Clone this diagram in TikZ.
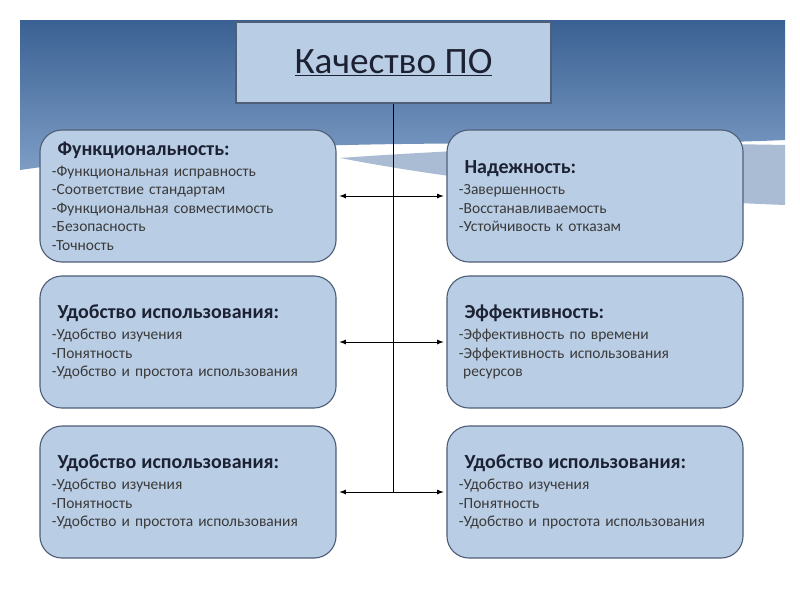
\documentclass[tikz,border=0pt]{standalone}
\usepackage{fontspec}
\setmainfont{Carlito}
\usepackage{tikz}
\usetikzlibrary{arrows}

\definecolor{boxfill}{HTML}{B9CDE5}
\definecolor{boxline}{HTML}{4F5F78}
\definecolor{bgtop}{HTML}{3A6193}
\definecolor{bgbot}{HTML}{7D9DC5}
\definecolor{bgband}{HTML}{A9BCD3}
\definecolor{headtext}{HTML}{1C2233}
\definecolor{itemtext}{HTML}{3A3A3A}

\newcommand{\boxhead}[1]{\hspace*{4pt}{\fontsize{14.2}{13.1}\selectfont\bfseries\color{headtext}#1}}

\begin{document}
\begin{tikzpicture}[x=0.025cm, y=-0.025cm,
	box/.style={draw=boxline, line width=0.8pt, fill=boxfill, rounded corners=0.55cm,
		minimum width=7.4cm, minimum height=3.3cm, inner xsep=0.3cm,
		text width=6.8cm, align=left, text=itemtext, font=\fontsize{11}{13.1}\selectfont},
	title/.style={draw=boxline, line width=0.8pt, fill=boxfill,
		minimum width=7.875cm, minimum height=2.025cm, text=headtext,
		font=\fontsize{26.5}{28}\selectfont},
	link/.style={latex-latex, line width=0.6pt, shorten <=2pt, shorten >=2pt},
	trunk/.style={line width=0.8pt}]
	\useasboundingbox (0,0) rectangle (800,600);

	% background
	\shade[top color=bgtop, bottom color=bgbot] (20,20) -- (785,20) -- (785,140)
		.. controls (560,150) and (300,130) .. (20,170) -- cycle;
	\fill[bgband] (340,158) .. controls (480,148) and (650,142) .. (785,145)
		-- (785,205) .. controls (650,200) and (480,185) .. (340,158) -- cycle;

	\node[title] (po) at (393.5,62.5) {\raisebox{-4pt}{\underline{Качество ПО}}};

	\node[box] (func) at (188,196) {\boxhead{Функциональность:}\\[2pt]
		-Функциональная исправность\\
		-Соответствие стандартам\\
		-Функциональная совместимость\\
		-Безопасность\\
		-Точность};
	\node[box] (rel) at (595,196) {\boxhead{Надежность:}\\[2pt]
		-Завершенность\\
		-Восстанавливаемость\\
		-Устойчивость к отказам};
	\node[box] (use) at (188,342) {\boxhead{Удобство использования:}\\[2pt]
		-Удобство изучения\\
		-Понятность\\
		-Удобство и простота использования};
	\node[box] (eff) at (595,342) {\boxhead{Эффективность:}\\[2pt]
		-Эффективность по времени\\
		-Эффективность использования\\
		\hspace*{3pt}ресурсов};
	\node[box] (usel) at (188,492) {\boxhead{Удобство использования:}\\[2pt]
		-Удобство изучения\\
		-Понятность\\
		-Удобство и простота использования};
	\node[box] (user) at (595,492) {\boxhead{Удобство использования:}\\[2pt]
		-Удобство изучения\\
		-Понятность\\
		-Удобство и простота использования};

	\coordinate (hub) at (po.south |- usel.east);
	\draw[trunk] (po.south) -- (hub);

	\draw[link] (func) -- (rel);
	\draw[link] (use) -- (eff);
	\draw[link] (usel) -- (user);
\end{tikzpicture}
\end{document}
